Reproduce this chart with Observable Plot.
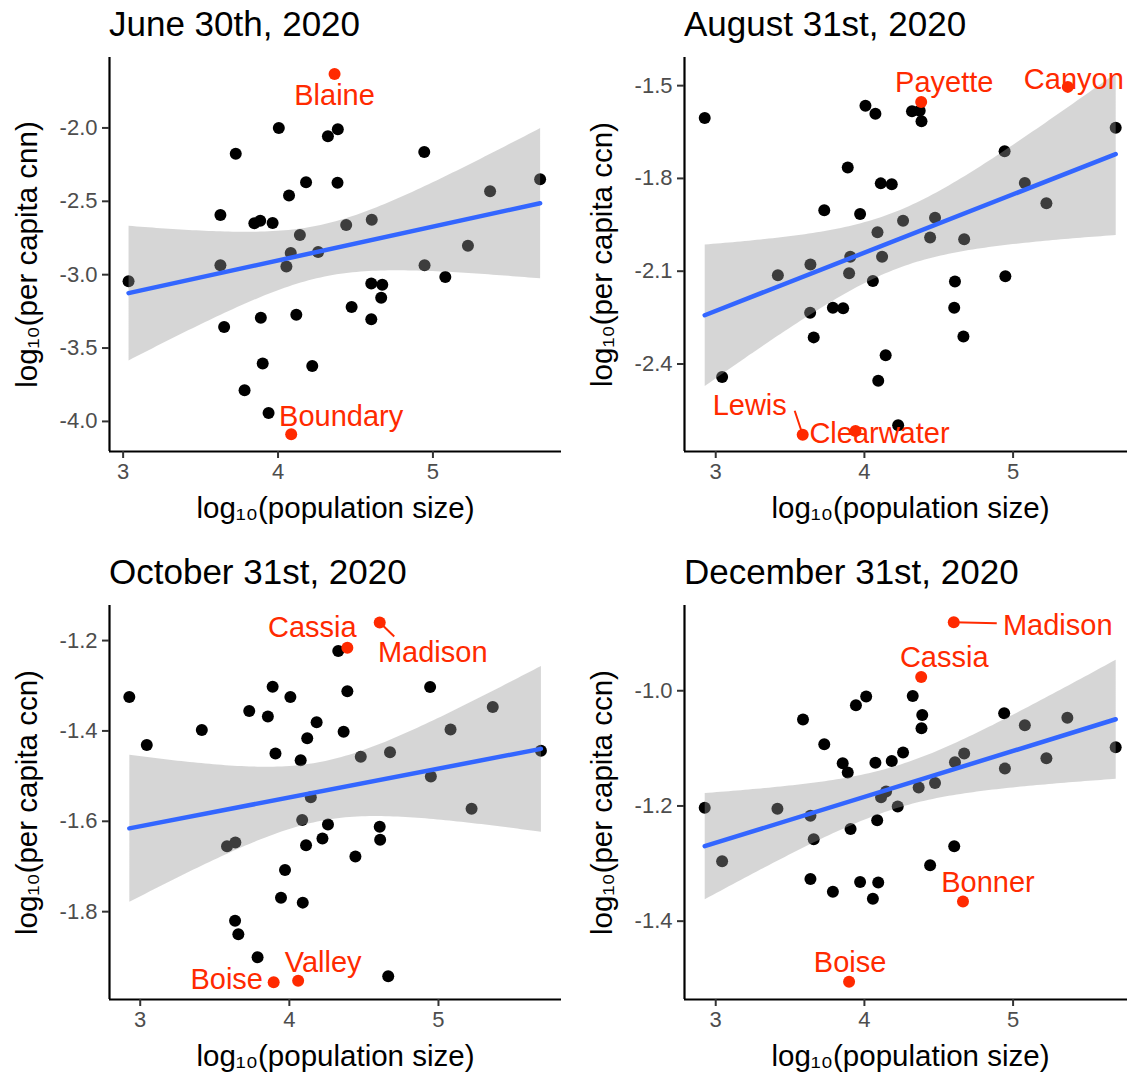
<!DOCTYPE html>
<html><head><meta charset="utf-8">
<script src="https://cdn.jsdelivr.net/npm/d3@7"></script>
<script src="https://cdn.jsdelivr.net/npm/@observablehq/plot@0.6"></script>
<style>
html,body{margin:0;padding:0;background:#fff}
body{width:1127px;height:1072px;overflow:hidden;position:relative;font-family:"Liberation Sans",Arial,Helvetica,sans-serif}
.panel{position:absolute}
.panel svg{max-width:none !important;display:block}
.title{position:absolute;font-size:35px;line-height:35px;color:#000;white-space:nowrap}
</style></head><body>
<script>
// ---------- DATA ----------
const titles = ["June 30th, 2020", "August 31st, 2020", "October 31st, 2020", "December 31st, 2020"];
const yLabels = ["log₁₀(per capita cnn)", "log₁₀(per capita ccn)", "log₁₀(per capita ccn)", "log₁₀(per capita ccn)"];
const xLabel = "log₁₀(population size)";
const xTicks = [3, 4, 5];
const junYTicks = [-2.0, -2.5, -3.0, -3.5, -4.0];
const augYTicks = [-1.5, -1.8, -2.1, -2.4];
const octYTicks = [-1.2, -1.4, -1.6, -1.8];
const decYTicks = [-1.0, -1.2, -1.4];

const junX = [3.035,3.628,3.628,3.652,3.727,3.784,3.847,3.885,3.889,3.901,3.939,3.965,4.005,4.054,4.071,4.082,4.118,4.141,4.181,4.221,4.259,4.322,4.384,4.386,4.440,4.475,4.602,4.605,4.602,4.666,4.673,4.944,4.946,5.080,5.226,5.369,5.692];
const junY = [-3.044,-2.593,-2.935,-3.356,-2.176,-3.787,-2.650,-2.632,-3.294,-3.606,-3.942,-2.648,-2.000,-2.944,-2.461,-2.852,-3.273,-2.729,-2.370,-3.623,-2.845,-2.056,-2.373,-2.009,-2.662,-3.220,-3.303,-2.625,-3.060,-3.157,-3.069,-2.164,-2.935,-3.016,-2.803,-2.431,-2.350];
const junRedName = ["Blaine", "Boundary"];
const junRedX = [4.365, 4.085];
const junRedY = [-1.632, -4.088];

const augX = [2.926,3.043,3.418,3.637,3.635,3.659,3.730,3.788,3.857,3.888,3.905,3.897,3.971,4.007,4.057,4.074,4.088,4.093,4.110,4.119,4.143,4.184,4.227,4.260,4.320,4.372,4.384,4.442,4.475,4.604,4.609,4.666,4.671,4.943,4.948,5.079,5.224,5.690];
const augY = [-1.605,-2.442,-2.113,-2.078,-2.234,-2.314,-1.903,-2.218,-2.220,-1.765,-2.053,-2.107,-1.915,-1.565,-2.132,-1.591,-1.974,-2.454,-1.816,-2.053,-2.372,-1.819,-2.598,-1.937,-1.583,-1.581,-1.615,-1.991,-1.927,-2.218,-2.133,-2.311,-1.997,-1.712,-2.116,-1.815,-1.880,-1.636];
const augRedName = ["Payette", "Canyon", "Lewis", "Clearwater"];
const augRedX = [4.382, 5.368, 3.585, 3.940];
const augRedY = [-1.553, -1.504, -2.629, -2.617];

const octX = [2.927,3.044,3.413,3.582,3.638,3.636,3.658,3.731,3.787,3.856,3.888,3.907,3.944,3.971,4.007,4.076,4.086,4.090,4.112,4.120,4.144,4.183,4.222,4.259,4.328,4.364,4.389,4.443,4.479,4.606,4.609,4.663,4.675,4.944,4.949,5.081,5.222,5.364,5.687];
const octY = [-1.325,-1.431,-1.398,-1.655,-1.647,-1.820,-1.850,-1.356,-1.901,-1.368,-1.302,-1.450,-1.769,-1.708,-1.325,-1.465,-1.597,-1.780,-1.653,-1.416,-1.547,-1.381,-1.638,-1.607,-1.223,-1.402,-1.312,-1.678,-1.457,-1.612,-1.641,-1.943,-1.447,-1.303,-1.501,-1.397,-1.572,-1.347,-1.444];
const octRedName = ["Cassia", "Madison", "Boise", "Valley"];
const octRedX = [4.389, 4.606, 3.895, 4.059];
const octRedY = [-1.216, -1.160, -1.956, -1.953];

const decX = [2.926,3.043,3.415,3.587,3.637,3.659,3.637,3.730,3.788,3.854,3.888,3.907,3.943,3.971,4.012,4.057,4.074,4.086,4.093,4.112,4.146,4.184,4.224,4.260,4.325,4.365,4.389,4.384,4.442,4.475,4.609,4.604,4.671,4.940,4.945,5.079,5.224,5.365,5.690];
const decY = [-1.203,-1.296,-1.205,-1.050,-1.217,-1.258,-1.327,-1.093,-1.349,-1.126,-1.142,-1.240,-1.025,-1.332,-1.010,-1.361,-1.125,-1.225,-1.333,-1.185,-1.175,-1.122,-1.201,-1.107,-1.009,-1.168,-1.042,-1.065,-1.303,-1.160,-1.124,-1.270,-1.109,-1.039,-1.135,-1.060,-1.117,-1.047,-1.098];
const decRedName = ["Madison", "Cassia", "Bonner", "Boise"];
const decRedX = [4.601, 4.382, 4.663, 3.897];
const decRedY = [-0.881, -0.976, -1.366, -1.505];

// ---------- LAYOUT / STYLE ----------
const FONT = '"Liberation Sans", Arial, Helvetica, sans-serif';
const FRAME_W = 452, FRAME_H = 394;
const RED = "#ff2a00";
// label offsets in px relative to the labelled point [dx, dy]; optional connector end [sx, sy]
const labelLayout = [
  {Blaine: [0, 22], Boundary: [50, -18]},
  {Payette: [23, -19], Canyon: [6, -7], Lewis: [-53, -29, -8, -24], Clearwater: [24, 3]},
  {Cassia: [-35, -20], Madison: [53, 30, 14.5, 14], Boise: [-47, -2], Valley: [25, -18]},
  {Madison: [104, 4, 43, 1], Cassia: [23, -19], Bonner: [25, -19], Boise: [1, -19]}
];
const panels = [
  {left: 0, top: 0, xd: [2.912, 5.83], yd: [-4.205, -1.52], yt: junYTicks, bx: junX, by: junY, rn: junRedName, rx: junRedX, ry: junRedY},
  {left: 575, top: 0, xd: [2.79, 5.83], yd: [-2.683, -1.409], yt: augYTicks, bx: augX, by: augY, rn: augRedName, rx: augRedX, ry: augRedY},
  {left: 0, top: 548, xd: [2.794, 5.825], yd: [-1.9944, -1.1224], yt: octYTicks, bx: octX, by: octY, rn: octRedName, rx: octRedX, ry: octRedY},
  {left: 575, top: 548, xd: [2.79, 5.83], yd: [-1.536, -0.852], yt: decYTicks, bx: decX, by: decY, rn: decRedName, rx: decRedX, ry: decRedY}
];

panels.forEach((p, i) => {
  const black = p.bx.map((x, j) => ({x, y: p.by[j]}));
  const red = p.rn.map((name, j) => ({name, x: p.rx[j], y: p.ry[j]}));
  const all = black.concat(red.map(d => ({x: d.x, y: d.y})));
  const lay = labelLayout[i];
  const kx = FRAME_W / (p.xd[1] - p.xd[0]);
  const ky = FRAME_H / (p.yd[1] - p.yd[0]);
  const segs = red.filter(d => lay[d.name].length > 2).map(d => ({
    x1: d.x, y1: d.y,
    x2: d.x + lay[d.name][2] / kx, y2: d.y - lay[d.name][3] / ky
  }));
  const labelMarks = red.map(d => Plot.text([d], {
    x: "x", y: "y", text: "name", dx: lay[d.name][0], dy: lay[d.name][1],
    fill: RED, fontSize: 29, textAnchor: "middle", lineAnchor: "middle"
  }));
  const W = 109 + FRAME_W + 10, H = 57 + FRAME_H + 90;
  const chart = Plot.plot({
    width: W,
    height: H,
    marginLeft: 109, marginRight: 10, marginTop: 57, marginBottom: 90,
    style: {fontFamily: FONT, background: "transparent", overflow: "visible", maxWidth: "none"},
    x: {domain: p.xd},
    y: {domain: p.yd},
    marks: [
      Plot.dot(black, {x: "x", y: "y", r: 6, fill: "black", stroke: null}),
      Plot.linearRegressionY(all, {x: "x", y: "y", stroke: "#3366FF", strokeWidth: 4.5, fill: "#999999", fillOpacity: 0.4, ci: 0.95}),
      Plot.dot(red, {x: "x", y: "y", r: 6, fill: RED, stroke: null}),
      Plot.link(segs, {x1: "x1", y1: "y1", x2: "x2", y2: "y2", stroke: RED, strokeWidth: 2}),
      ...labelMarks,
      Plot.ruleX([p.xd[0]], {stroke: "black", strokeWidth: 2.2}),
      Plot.ruleY([p.yd[0]], {stroke: "black", strokeWidth: 2.2}),
      Plot.axisX({ticks: xTicks, tickFormat: d => String(d), tickSize: 7, tickPadding: 5, stroke: "#333", strokeWidth: 2, fill: "#4d4d4d", fontSize: 22, label: null}),
      Plot.axisY({ticks: p.yt, tickFormat: d => d.toFixed(1), tickSize: 7, tickPadding: 5, stroke: "#333", strokeWidth: 2, fill: "#4d4d4d", fontSize: 22, label: null}),
      Plot.text([xLabel], {text: d => d, frameAnchor: "bottom", dy: 57, fontSize: 29.5, fill: "black", textAnchor: "middle", lineAnchor: "middle"}),
      Plot.text([yLabels[i]], {text: d => d, frameAnchor: "left", dx: -82, rotate: -90, fontSize: 29.5, fill: "black", textAnchor: "middle", lineAnchor: "middle"})
    ]
  });
  const wrap = document.createElement("div");
  wrap.className = "panel";
  wrap.style.left = p.left + "px";
  wrap.style.top = p.top + "px";
  wrap.style.width = W + "px";
  wrap.style.height = H + "px";
  wrap.appendChild(chart);
  document.body.appendChild(wrap);
  const t = document.createElement("div");
  t.className = "title";
  t.textContent = titles[i];
  t.style.left = (p.left + 109) + "px";
  t.style.top = (p.top + 6) + "px";
  document.body.appendChild(t);
});
</script>
</body></html>
